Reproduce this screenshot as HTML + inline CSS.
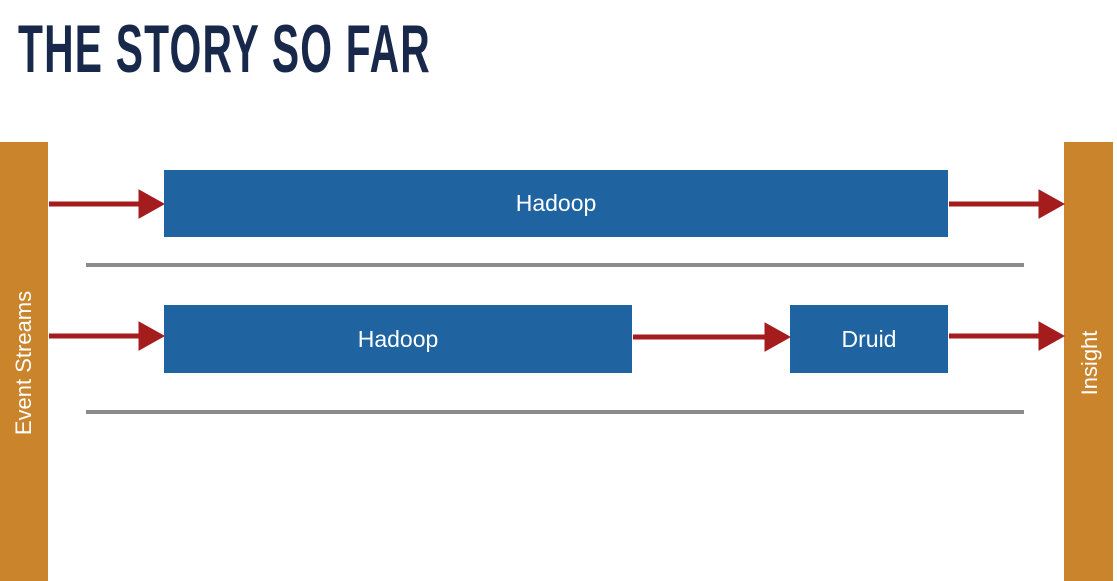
<!DOCTYPE html>
<html><head><meta charset="utf-8"><style>
body{margin:0;width:1117px;height:581px;background:#fff;position:relative;overflow:hidden;font-family:"Liberation Sans",sans-serif}
.t{position:absolute;left:18px;top:10px;font-family:"Liberation Sans",sans-serif;font-weight:bold;font-size:68px;color:#17284a;letter-spacing:2px;transform:scaleX(0.6);transform-origin:left;white-space:nowrap}
.bar{position:absolute;background:#c9842c;top:142px;height:439px;width:48px}
.box{position:absolute;background:#1f64a0;color:#fff;font-size:23px;display:flex;align-items:center;justify-content:center}
.g{position:absolute;left:86px;width:938px;height:4px;background:#8c8c8c}
.v{position:absolute;color:#fff;font-size:22px;white-space:nowrap;transform:translate(-50%,-50%) rotate(-90deg)}
</style></head><body>
<div class="t">THE STORY SO FAR</div>
<div class="bar" style="left:0"></div>
<div class="bar" style="left:1064px;width:49px"></div>
<div class="v" style="left:24px;top:363px">Event Streams</div>
<div class="v" style="left:1090px;top:363px">Insight</div>
<div class="box" style="left:164px;top:170px;width:784px;height:67px">Hadoop</div>
<div class="box" style="left:164px;top:305px;width:468px;height:68px">Hadoop</div>
<div class="box" style="left:790px;top:305px;width:158px;height:68px">Druid</div>
<div class="g" style="top:263px"></div>
<div class="g" style="top:410px"></div>
<svg width="1117" height="581" style="position:absolute;left:0;top:0">
<g fill="#a51c1f" stroke="#a51c1f">
<line x1="49" y1="204" x2="142" y2="204" stroke-width="5"/><polygon points="139,190 164,204 139,218"/>
<line x1="949" y1="204" x2="1042" y2="204" stroke-width="5"/><polygon points="1039,190 1064,204 1039,218"/>
<line x1="49" y1="336" x2="142" y2="336" stroke-width="5"/><polygon points="139,322 164,336 139,350"/>
<line x1="633" y1="337" x2="768" y2="337" stroke-width="5"/><polygon points="765,323 790,337 765,351"/>
<line x1="949" y1="336" x2="1042" y2="336" stroke-width="5"/><polygon points="1039,322 1064,336 1039,350"/>
</g></svg>
</body></html>
